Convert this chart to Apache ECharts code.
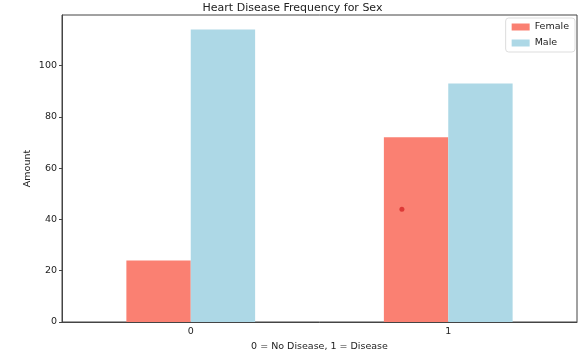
<!DOCTYPE html>
<html><head><meta charset="utf-8">
<script src="https://cdn.jsdelivr.net/npm/echarts@6/dist/echarts.min.js"></script>
<style>html,body{margin:0;padding:0;background:#fff}#c{width:585px;height:357px}</style>
</head><body><div id="c"></div>
<script>
const categories = ['0', '1'];
const female = [24, 72];
const male = [114, 93];
const yTicks = [0, 20, 40, 60, 80, 100];
const marker = [[0.82, 44]];

const chart = echarts.init(document.getElementById('c'), null, {renderer: 'canvas'});
const font = 'DejaVu Sans';
chart.setOption({
  animation: false,
  title: {text: 'Heart Disease Frequency for Sex', left: 'center', top: -2,
    textStyle: {fontFamily: font, fontSize: 11, fontWeight: 'normal', color: '#222'}},
  legend: {data: ['Female', 'Male'], orient: 'vertical', right: 10, top: 18,
    itemWidth: 18, itemHeight: 7, itemGap: 6, icon: 'rect',
    backgroundColor: '#fff', borderColor: '#ddd', borderWidth: 1, borderRadius: 3, padding: [4, 6, 4, 6],
    textStyle: {fontFamily: font, fontSize: 9.5, color: '#222'}},
  grid: {left: 62, right: 8, top: 15, bottom: 34, show: true, borderColor: '#444', borderWidth: 1},
  xAxis: [{
    type: 'category', data: categories, boundaryGap: true,
    name: '0 = No Disease, 1 = Disease', nameLocation: 'middle', nameGap: 20,
    nameTextStyle: {fontFamily: font, fontSize: 9.5, color: '#222'},
    axisLine: {lineStyle: {color: '#444'}},
    axisTick: {alignWithLabel: true, length: 3, lineStyle: {color: '#444'}},
    axisLabel: {fontFamily: font, fontSize: 9.5, color: '#222', margin: 5}
  }, {
    type: 'value', min: -0.5, max: 1.5, show: false
  }],
  yAxis: {
    type: 'value', min: 0, max: 119.7, interval: 20,
    name: 'Amount', nameLocation: 'middle', nameGap: 29, nameRotate: 90, nameMoveOverlap: false,
    nameTextStyle: {fontFamily: font, fontSize: 9.5, color: '#222'},
    axisLine: {show: true, onZero: false, lineStyle: {color: '#444'}},
    axisTick: {show: true, length: 3, lineStyle: {color: '#444'}},
    axisLabel: {fontFamily: font, fontSize: 9.5, color: '#222', margin: 5, showMaxLabel: false,
      formatter: v => yTicks.includes(v) ? String(v) : ''},
    splitLine: {show: false}
  },
  series: [
    {name: 'Female', type: 'bar', data: female, barWidth: '25%', barGap: '0%',
      itemStyle: {color: '#fa8072'}},
    {name: 'Male', type: 'bar', data: male, barWidth: '25%', barGap: '0%',
      itemStyle: {color: '#add8e6'}},
    {name: 'marker', type: 'scatter', xAxisIndex: 1, data: marker, symbolSize: 5,
      itemStyle: {color: '#d62728'}, silent: true}
  ]
});
</script></body></html>
